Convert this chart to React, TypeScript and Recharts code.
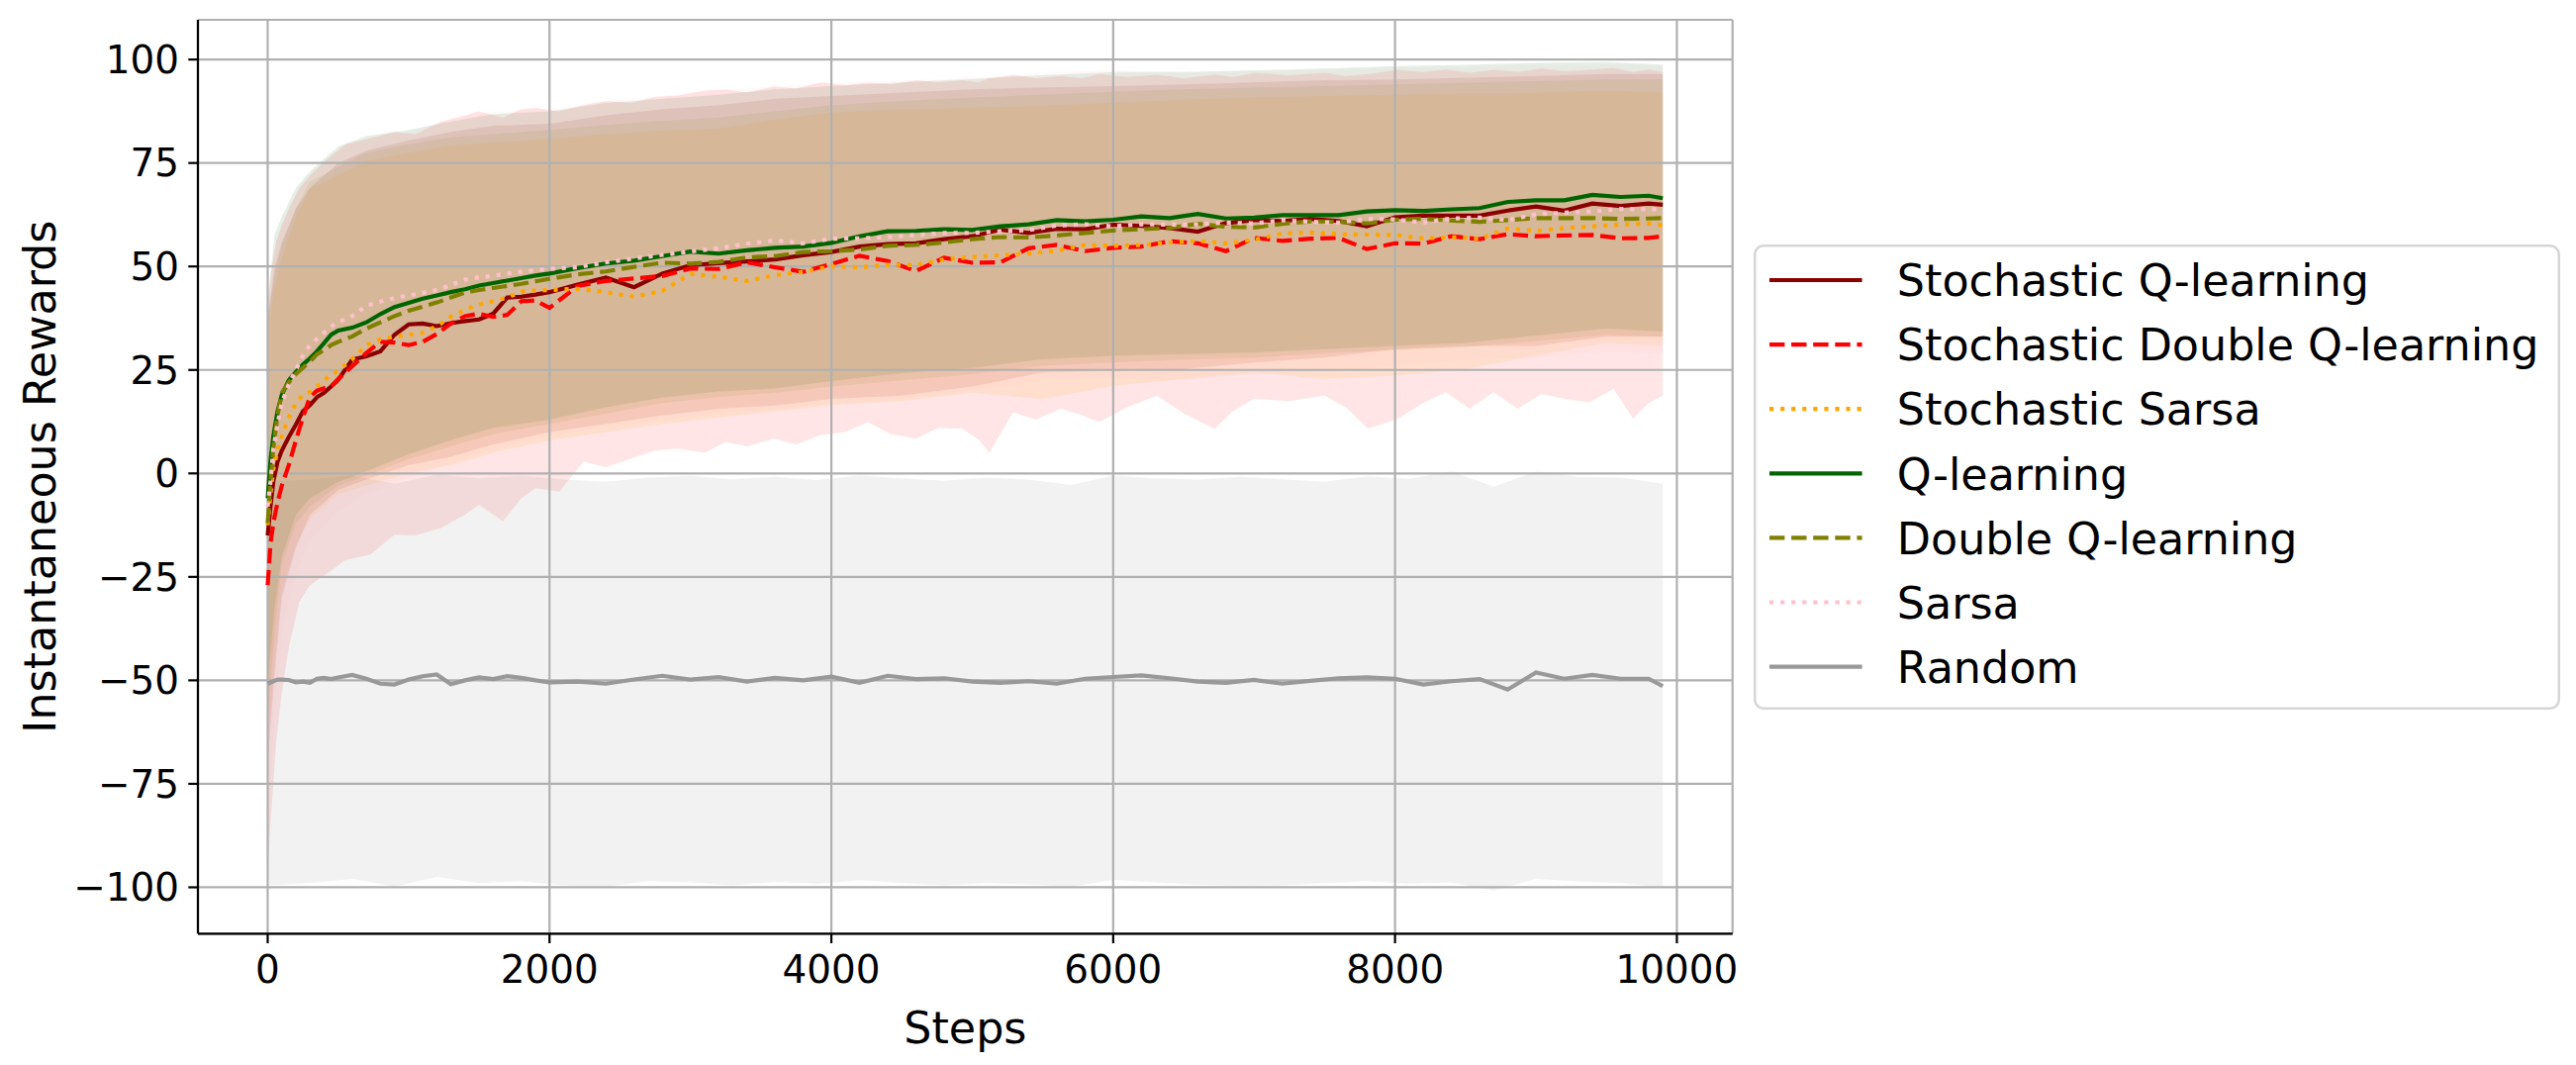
import React from 'react';
import { ComposedChart, Line, Area, XAxis, YAxis, CartesianGrid, Legend, Label } from 'recharts';

const FONT = '"DejaVu Sans", Verdana, sans-serif';

// ---------- mean curves ----------
const LINE_STEPS = [
  0, 20, 40, 70, 100, 150, 200, 250, 300, 350, 400, 450, 500,
  600, 700, 800, 900, 1000, 1100, 1200, 1300, 1400, 1500, 1600, 1700, 1800, 1900, 2000,
  2200, 2400, 2600, 2800, 3000, 3200, 3400, 3600, 3800, 4000, 4200, 4400, 4600, 4800, 5000,
  5200, 5400, 5600, 5800, 6000, 6200, 6400, 6600, 6800, 7000, 7200, 7400, 7600, 7800, 8000,
  8200, 8400, 8600, 8800, 9000, 9200, 9400, 9600, 9800, 9900,
];

const STOCH_Q = [
  -15, -8, -2, 2.8, 5.5, 8.8, 11.8, 15, 16.5, 18.4, 19.5, 21, 22.6,
  27.5, 28.3, 29.5, 33.5, 36, 36.2, 35.6, 36.3, 36.8, 37.2, 38.6, 42.5, 42.7, 43.2, 43.8,
  45.6, 47.3, 45, 48.3, 50.3, 50.8, 51.2, 51.7, 52.7, 53.5, 54.8, 55.4, 55.6, 56.6, 57.3,
  58.9, 58.1, 59.1, 59, 60.1, 59.8, 59.3, 58.4, 60.5, 61.2, 61, 61.5, 61, 59.7, 61.9,
  62.3, 62.3, 62.3, 63.5, 64.5, 63.5, 65.2, 64.6, 65.2, 64.9,
];

const STOCH_DQ = [
  -27, -17, -12, -7, -3, 2, 8, 13.5, 18.5, 20, 20.6, 21, 22.8,
  25.9, 29.1, 31.8, 31.6, 31, 31.8, 33.7, 36.2, 38, 38.6, 37.8, 38.3, 41.6, 41.8, 40,
  45.3, 46.5, 47.1, 47.7, 49.5, 49.4, 51, 49.8, 48.7, 50.6, 52.6, 51.3, 48.9, 52.1, 50.9,
  51, 54.4, 55.2, 53.7, 54.5, 54.8, 56.1, 55.6, 53.7, 56.9, 56.2, 56.7, 56.9, 54.2, 55.6,
  55.5, 57.3, 56.6, 57.8, 57.3, 57.5, 57.6, 56.8, 56.9, 57.3,
];

const STOCH_SARSA = [
  -12.5, -5, 1, 5.5, 9, 13.5, 17, 19, 19.7, 21, 22.5, 23.8, 24.8,
  27.6, 31, 32.4, 33, 33.5, 34, 35.5, 37.9, 39.5, 40.8, 41.6, 42.5, 43.9, 44.2, 44.3,
  44.6, 43.8, 42.7, 44.1, 48.2, 47.5, 46.5, 47.9, 48.7, 50, 49.8, 50.4, 50.3, 51.7, 52.3,
  52.7, 53.1, 53.8, 55.2, 55, 55.2, 55.8, 56.2, 55.6, 56.4, 58, 58.2, 57.8, 57.7, 57.6,
  56.8, 57.1, 56.7, 59.2, 58.6, 59.3, 59.7, 60.1, 60.4, 59.9,
];

const Q_LEARNING = [
  -6, 3, 9, 15, 19, 22.5, 24.5, 26.3, 27.8, 29.5, 31.5, 33.5, 34.5,
  35.2, 36.5, 38.5, 40.2, 41.2, 42.2, 43, 43.8, 44.5, 45.4, 46, 46.6, 47.2, 47.8, 48.3,
  49.6, 50.7, 51.4, 52.5, 53.6, 53.1, 53.9, 54.5, 54.8, 55.7, 57.3, 58.5, 58.6, 59, 58.8,
  59.7, 60.2, 61.2, 60.9, 61.3, 62.1, 61.7, 62.7, 61.6, 61.8, 62.4, 62.4, 62.4, 63.3, 63.6,
  63.4, 63.8, 64.1, 65.6, 66, 66, 67.3, 66.8, 67.1, 66.5,
];

const DOUBLE_Q = [
  -12, -2, 6, 14, 19.5, 22, 24, 25.5, 27, 28.8, 29.8, 31, 31.8,
  33.1, 35, 36.5, 38, 39.3, 40.3, 41.3, 42.5, 43.7, 44.3, 44.8, 45.3, 45.8, 46.4, 47,
  48.1, 48.8, 49.9, 50.9, 50.7, 51.1, 52.2, 52.5, 53.5, 53.7, 54.1, 55, 55.2, 55.8, 56.6,
  57.1, 57, 57.5, 58.1, 58.7, 59, 59.3, 60.3, 59.6, 59.4, 60.3, 60.9, 60.8, 60.4, 61.3,
  61.5, 61.1, 60.8, 61.2, 61.7, 61.7, 61.7, 61.5, 61.6, 61.7,
];

const SARSA = [
  -8, -2, 6, 12, 17, 21.5, 25, 28.5, 31, 32.5, 34, 35.5, 36.5,
  38, 40.5, 41.5, 42.4, 43, 43.6, 44.3, 45.5, 46.8, 47.4, 47.8, 48.3, 48.7, 49.1, 49.4,
  49.8, 51, 51.9, 52.8, 53.6, 54.4, 55.5, 56.3, 55.6, 56.7, 56.8, 57.1, 57.6, 58.1, 58.1,
  58.5, 58.8, 59.9, 60.2, 59.7, 60.2, 60.1, 60.2, 60.6, 60.4, 61.2, 60.8, 60.6, 61.5, 61.4,
  60.6, 61.6, 61.8, 61.2, 62.6, 63, 63.3, 63.9, 63.8, 63.9,
];

const RANDOM = [
  -50.8, -50.5, -50.2, -49.8, -49.8, -49.9, -50.5, -50.3, -50.6, -49.6, -49.4, -49.7, -49.3,
  -48.7, -49.6, -50.8, -51, -49.8, -49, -48.6, -50.9, -50, -49.3, -49.7, -49, -49.4, -50, -50.5,
  -50.3, -50.8, -49.8, -48.9, -49.8, -49.2, -50.3, -49.4, -50, -49.1, -50.6, -48.9, -49.7, -49.5, -50.3,
  -50.6, -50.2, -50.8, -49.6, -49.2, -48.8, -49.5, -50.3, -50.6, -49.9, -50.8, -50.1, -49.5, -49.3, -49.6,
  -51, -50.2, -49.7, -52.2, -48.1, -49.6, -48.7, -49.6, -49.6, -51.4,
];

// ---------- shaded bands (lower / upper edges) ----------
const BAND_STEPS = [
  0, 50, 100, 200, 300, 500, 700,
  1000, 1300, 1600, 2000, 2400, 2800, 3200,
  3600, 4000, 4500, 5000, 5500, 6000, 6500,
  7000, 7500, 8000, 8500, 9000, 9500, 9900,
];

const STOCH_Q_LO = [
  -70, -48, -30, -18, -10, -4, -1.5,
  2, 4, 7, 10, 12, 14, 15.6,
  16.4, 18, 18.8, 21, 24.4, 24.8, 25.2,
  26.8, 28, 30, 30.8, 30.8, 33, 33,
];
const STOCH_Q_HI = [
  38, 50, 56, 64, 69, 75, 78,
  80.5, 82.5, 84, 84.5, 86.5, 88, 89,
  90.5, 91.2, 92, 92.8, 93.3, 93.6, 94,
  94.5, 95, 95.2, 95.6, 96, 96.5, 96.5,
];

const STOCH_SARSA_LO = [
  -65, -45, -28, -17, -11, -5, -3,
  0, 2, 5, 8, 10, 12, 13.5,
  15, 16.5, 17.5, 19.5, 18, 21.2, 22.8,
  24.4, 22.8, 23.6, 25.2, 28.5, 31.5, 30.8,
];
const STOCH_SARSA_HI = [
  35, 45, 52, 62, 68.8, 72, 75.5,
  77.5, 79.2, 80, 80.8, 82, 82.8, 83.3,
  85.5, 87.2, 88, 88.3, 88.8, 89.6, 90.3,
  90.8, 91.2, 91.5, 91.8, 92, 92.4, 92,
];

const Q_LEARNING_LO = [
  -50, -32, -20, -10, -6, -2, 0.5,
  4.6, 8, 11, 13, 16, 18.3, 19.8,
  20.5, 22.3, 24.2, 25.5, 27.6, 28.4, 28.8,
  29.2, 30, 30.8, 31.5, 33.3, 35, 34.3,
];
const Q_LEARNING_HI = [
  42, 58, 62, 69, 73, 79, 81.5,
  83, 85, 86.8, 87.5, 89.5, 90.5, 91.5,
  92.8, 93.6, 94.5, 95.3, 96.2, 97, 97,
  97.4, 97.8, 98.4, 98.7, 99.2, 99.4, 98.8,
];

const DOUBLE_Q_LO = [
  -60, -38, -22, -12, -8, -3, -0.5,
  3.5, 6.5, 9.5, 12, 14.5, 17, 18.5,
  19.5, 21, 22.5, 24, 26, 26.8, 27.5,
  28, 29, 29.8, 30.5, 32, 33.5, 33,
];
const DOUBLE_Q_HI = [
  37, 48, 55, 64, 70.5, 74, 77.5,
  79.5, 81.2, 82, 83, 84.2, 85.2, 86,
  87.5, 89, 90, 90.8, 91.5, 92.2, 92.8,
  93.2, 93.6, 94, 94.4, 94.8, 95.2, 95.2,
];

const SARSA_LO = [
  -85, -60, -38, -24, -16, -9, -5,
  -1, 2.5, 6, 9, 11.5, 13, 14.5,
  15.5, 17, 18, 20, 22.5, 23, 22.5,
  24, 24.5, 26, 27.5, 28, 29.5, 29,
];
const SARSA_HI = [
  40, 54, 60, 67, 72, 78.5, 81,
  82.5, 85.5, 87.5, 88, 90, 91.2, 92.5,
  93.5, 94.5, 95, 95.5, 96.8, 97.4, 97,
  97.2, 97.5, 98, 98.3, 98.6, 98.8, 98.5,
];

// Stochastic Double Q-learning has the widest, most ragged band: finer steps
const STOCH_DQ_BAND_STEPS = [
  0, 30, 60, 100, 150, 225, 300, 390, 550, 730,
  900, 1050, 1230, 1400, 1500, 1670, 1800, 1900, 2070, 2240,
  2400, 2580, 2750, 2910, 3100, 3250, 3400, 3590, 3750, 3920,
  4100, 4260, 4420, 4600, 4760, 4930, 5050, 5120, 5290, 5450,
  5630, 5780, 5900, 6100, 6310, 6500, 6720, 6850, 7000, 7250,
  7500, 7650, 7810, 8020, 8200, 8360, 8530, 8700, 8870, 9040,
  9200, 9380, 9550, 9690, 9800, 9900,
];
const STOCH_DQ_LO = [
  -95, -80, -65, -53, -42, -31, -27, -25, -21, -19.6,
  -14.8, -15, -13.2, -10, -7.6, -11.6, -6, -3.6, -4.4, 2.8,
  1.5, 3.6, 5.5, 6, 5, 7.6, 6.5, 8.4, 7, 9.2,
  10, 12.4, 9.5, 8.4, 11, 10.8, 8, 5, 14.8, 13,
  15.6, 14, 12.4, 16, 18.8, 14.5, 10.8, 15, 18, 17.5,
  18.8, 16, 10.8, 13.2, 17, 19.6, 15.6, 19.6, 15.6, 19.2,
  18, 17.2, 20.4, 13.2, 17, 18.8,
];
const STOCH_DQ_HI = [
  40, 50, 56, 60, 64, 69, 72, 75, 79.5, 81,
  82.5, 82, 85, 86.5, 87.5, 86, 88, 88.3, 87.5, 89,
  90, 89.5, 91, 91.3, 92.5, 92.8, 92, 93.5, 93, 94.5,
  93.8, 94.5, 94, 95, 94.5, 95, 94.5, 95.5, 96.3, 95.5,
  96, 95.5, 96.5, 95.8, 96.3, 95.5, 96.4, 95.8, 96.8, 96.2,
  96.8, 96, 96.5, 97.5, 97, 97.6, 96.8, 97.5, 97, 97.8,
  97.2, 97.5, 98, 97, 97.6, 97,
];

const RANDOM_BAND_STEPS = [
  0, 300, 600, 900, 1200, 1500, 1800, 2100, 2400, 2700, 3000, 3300,
  3600, 3900, 4200, 4500, 4800, 5100, 5400, 5700, 6000, 6300, 6600,
  6900, 7200, 7500, 7800, 8100, 8400, 8700, 9000, 9300, 9600, 9900,
];
const RANDOM_LO = [
  -99.5, -99, -98, -99.8, -97.5, -99, -98.5, -99.5, -99.8, -98.5, -98.8, -99.5,
  -98.7, -99.2, -98.3, -99, -99.5, -99, -99.3, -99.8, -98.2, -98.8, -99.4,
  -99.6, -99.5, -99, -98.5, -99.2, -98.8, -100.8, -98, -98.6, -99, -100,
];
const RANDOM_HI = [
  -2, -1.5, -0.5, -2.5, -0.3, -1.2, -0.5, -1.5, -2, -1, -0.6, -1.4,
  -0.8, -1.6, -0.5, -1.2, -1.8, -1, -1.5, -2.8, -0.5, -1.2, -1.5,
  -0.8, -1.4, -2, -0.7, -1.3, 0.5, -3.2, 0.5, -0.8, -1, -2.5,
];

// ---------- axes ----------
const X_TICKS = [0, 2000, 4000, 6000, 8000, 10000];
const Y_TICKS = [-100, -75, -50, -25, 0, 25, 50, 75, 100];
const X_DOMAIN: [number, number] = [-495, 10395];
const Y_DOMAIN: [number, number] = [-111.2, 109.6];

const DASHES: Record<string, string | undefined> = {
  solid: undefined,
  dashed: '15.4 6.7',
  dotted: '4.17 6.9',
};

const makeBand = (steps: number[], lo: number[], hi: number[]) =>
  steps.map((s, i) => ({ step: s, range: [lo[i], hi[i]] }));

const SERIES = [
  { key: 'sq', name: 'Stochastic Q-learning', color: '#8b0000', fill: '#8b0000', dash: 'solid', band: makeBand(BAND_STEPS, STOCH_Q_LO, STOCH_Q_HI) },
  { key: 'sdq', name: 'Stochastic Double Q-learning', color: '#ff0000', fill: '#ff0000', dash: 'dashed', band: makeBand(STOCH_DQ_BAND_STEPS, STOCH_DQ_LO, STOCH_DQ_HI) },
  { key: 'ss', name: 'Stochastic Sarsa', color: '#ffa500', fill: '#ffa500', dash: 'dotted', band: makeBand(BAND_STEPS, STOCH_SARSA_LO, STOCH_SARSA_HI) },
  { key: 'q', name: 'Q-learning', color: '#006400', fill: '#006400', dash: 'solid', band: makeBand(BAND_STEPS, Q_LEARNING_LO, Q_LEARNING_HI) },
  { key: 'dq', name: 'Double Q-learning', color: '#808000', fill: '#808000', dash: 'dashed', band: makeBand(BAND_STEPS, DOUBLE_Q_LO, DOUBLE_Q_HI) },
  { key: 'sarsa', name: 'Sarsa', color: '#ffc0cb', fill: '#ffc0cb', dash: 'dotted', band: makeBand(BAND_STEPS, SARSA_LO, SARSA_HI) },
  { key: 'rand', name: 'Random', color: '#999999', fill: '#808080', dash: 'solid', band: makeBand(RANDOM_BAND_STEPS, RANDOM_LO, RANDOM_HI) },
];

const LINE_DATA = LINE_STEPS.map((s, i) => ({
  step: s,
  sq: STOCH_Q[i],
  sdq: STOCH_DQ[i],
  ss: STOCH_SARSA[i],
  q: Q_LEARNING[i],
  dq: DOUBLE_Q[i],
  sarsa: SARSA[i],
  rand: RANDOM[i],
}));

const W = 2590;
const H = 1060;
const LINE_W = 4.17;

const fmtY = (v: number) => String(v).replace('-', '\u2212');

const LegendBox = () => (
  <svg width={815} height={470} style={{ display: 'block' }}>
    <rect x={1.25} y={1.25} width={812.5} height={467.5} rx={9} ry={9} fill="#ffffff" stroke="#d6d6d6" strokeWidth={2.5} />
    {SERIES.map((s, i) => {
      const cy = 36 + i * 65.1;
      return (
        <g key={s.key}>
          <line x1={16} x2={109.6} y1={cy} y2={cy} stroke={s.color} strokeWidth={LINE_W} strokeDasharray={DASHES[s.dash]} />
          <text x={144.8} y={cy + 16.2} fontSize={44.4} fontFamily={FONT} fill="#000000">
            {s.name}
          </text>
        </g>
      );
    })}
  </svg>
);

const YTitle = (props: any) => {
  const vb = props.viewBox || { x: 0, y: 12, width: 192, height: 923.3 };
  const x = vb.x + 48;
  const y = vb.y + vb.height / 2;
  return (
    <text x={x} y={y} transform={`rotate(-90, ${x}, ${y})`} textAnchor="middle" fontSize={44.4} fontFamily={FONT} fill="#000000">
      Instantaneous Rewards
    </text>
  );
};

const XTitle = (props: any) => {
  const vb = props.viewBox || { x: 192, y: 935.3, width: 1550.7, height: 124.7 };
  const x = vb.x + vb.width / 2;
  const y = vb.y + 110.7;
  return (
    <text x={x} y={y} textAnchor="middle" fontSize={44.4} fontFamily={FONT} fill="#000000">
      Steps
    </text>
  );
};

export default function App() {
  const tickStyle = { fontSize: 38.9, fill: '#000000', fontFamily: FONT };
  const spine = { stroke: '#000000', strokeWidth: 2.2 };
  return (
    <div style={{ position: 'relative', width: W, height: H, fontFamily: FONT }}>
      <ComposedChart width={W} height={H} data={LINE_DATA} margin={{ top: 12, right: 847.3, bottom: 0, left: 0 }}>
        <XAxis
          dataKey="step"
          type="number"
          domain={X_DOMAIN}
          ticks={X_TICKS}
          allowDataOverflow
          height={124.7}
          tick={tickStyle}
          tickSize={9.7}
          tickMargin={12.7}
          tickLine={spine}
          axisLine={spine}
          interval={0}
        >
          <Label content={<XTitle />} />
        </XAxis>
        <XAxis xAxisId="top" orientation="top" type="number" domain={X_DOMAIN} allowDataOverflow height={0} tick={false} tickLine={false} axisLine={spine} />
        <YAxis
          type="number"
          domain={Y_DOMAIN}
          ticks={Y_TICKS}
          allowDataOverflow
          width={192}
          tick={tickStyle}
          tickSize={9.7}
          tickMargin={9.3}
          tickLine={spine}
          axisLine={spine}
          tickFormatter={fmtY}
          interval={0}
        >
          <Label content={<YTitle />} />
        </YAxis>
        <YAxis yAxisId="right" orientation="right" type="number" domain={Y_DOMAIN} allowDataOverflow width={0} tick={false} tickLine={false} axisLine={spine} />

        {SERIES.map((s) => (
          <Area
            key={`band-${s.key}`}
            data={s.band}
            dataKey="range"
            type="linear"
            stroke="none"
            fill={s.fill}
            fillOpacity={0.1}
            dot={false}
            activeDot={false}
            isAnimationActive={false}
            legendType="none"
          />
        ))}

        <CartesianGrid stroke="#b0b0b0" strokeWidth={2.2} zIndex={150} />

        {SERIES.map((s) => (
          <Line
            key={`line-${s.key}`}
            dataKey={s.key}
            type="linear"
            stroke={s.color}
            strokeWidth={LINE_W}
            strokeDasharray={DASHES[s.dash]}
            dot={false}
            activeDot={false}
            isAnimationActive={false}
            name={s.name}
          />
        ))}

        <Legend
          layout="horizontal"
          verticalAlign="middle"
          align="center"
          wrapperStyle={{ left: 1764, top: 238.7, width: 815, height: 470, position: 'absolute' }}
          content={() => <LegendBox />}
        />
      </ComposedChart>
    </div>
  );
}
